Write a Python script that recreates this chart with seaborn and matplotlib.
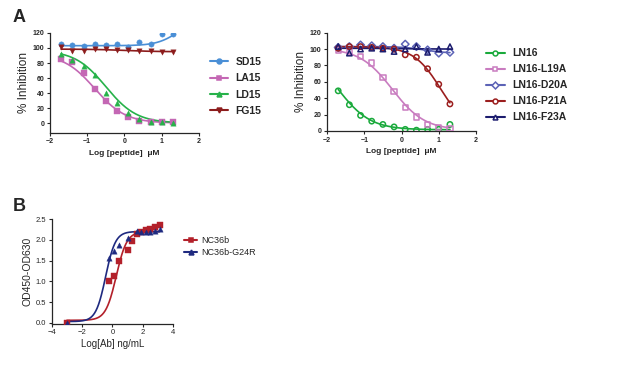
import numpy as np
import pandas as pd
import matplotlib
matplotlib.use("Agg")
import matplotlib.pyplot as plt
from matplotlib.lines import Line2D
import seaborn as sns

sns.set_style("ticks")
plt.rcParams['font.family'] = ['Liberation Sans', 'DejaVu Sans']

# --- Panel A, left: wild-type peptides ---
log_pep = [-1.7, -1.4, -1.1, -0.8, -0.5, -0.2, 0.1, 0.4, 0.7, 1.0, 1.3]
sd15 = [105, 104, 102, 105, 104, 105, 101, 108, 105, 118, 119]
la15 = [85, 81, 67, 46, 29, 16, 8, 3, 1, 1, 1]
ld15 = [92, 84, 76, 64, 40, 27, 14, 6, 2, 1, 0]
fg15 = [101, 96, 96, 98, 98, 97, 97, 96, 96, 95, 95]

# --- Panel A, right: LN16 alanine mutants ---
ln16 = [49, 32, 19, 12, 8, 5, 2, 1, 2, 2, 8]
ln16_l19a = [99, 97, 91, 83, 65, 48, 29, 17, 8, 4, 3]
ln16_d20a = [102, 103, 105, 104, 103, 101, 106, 103, 99, 95, 96]
ln16_p21a = [101, 103, 103, 102, 101, 100, 93, 90, 76, 57, 33]
ln16_f23a = [103, 95, 100, 101, 100, 97, 100, 103, 96, 100, 103]

# --- Panel B: binding ELISA ---
log_ab_nc36b = [-3.0, -0.2, 0.1, 0.4, 1.0, 1.3, 1.6, 1.9, 2.2, 2.5, 2.8, 3.1]
od_nc36b = [0.0, 1.0, 1.13, 1.48, 1.75, 1.98, 2.13, 2.2, 2.23, 2.27, 2.31, 2.36]
log_ab_g24r = [-3.0, -0.2, 0.1, 0.4, 1.0, 1.6, 1.9, 2.2, 2.5, 2.8, 3.1]
od_g24r = [0.0, 1.57, 1.74, 1.88, 2.05, 2.22, 2.18, 2.18, 2.2, 2.22, 2.25]

# 4PL fit parameters: (bottom, top, logEC50, hill)
fit_a_left = {
    'SD15': (103, 140, 1.45, 1.5),
    'LA15': (0, 92, -0.8, 1.05),
    'LD15': (0, 97, -0.5, 1.05),
    'FG15': (95, 98.5, 0.0, 1.0),
}
fit_a_right = {
    'LN16': (1.5, 100, -1.7, 1.0),
    'LN16-L19A': (1, 101, -0.25, 1.0),
    'LN16-D20A': (95, 103, 0.6, 1.5),
    'LN16-P21A': (0, 103, 1.05, 1.2),
    'LN16-F23A': (100, 101, 0.0, 1.0),
}
fit_b = {
    'NC36b': (0.06, 2.2, 0.25, 1.25),
    'NC36b-G24R': (0.03, 2.2, -0.45, 1.35),
}


def four_pl(x, bottom, top, logec50, hill, falling):
    s = -1 if falling else 1
    return bottom + (top - bottom) / (1 + 10 ** (s * (logec50 - x) * hill))


def draw_series(ax, x, y, params, color, marker, falling, filled=True, ms=4.5, lw=1.2):
    xs = np.linspace(min(x), max(x), 200)
    b, t, e, h = params
    curve = pd.DataFrame({'x': xs, 'y': four_pl(xs, b, t, e, h, falling)})
    sns.lineplot(data=curve, x='x', y='y', ax=ax, color=color, lw=lw, legend=False)
    sns.scatterplot(x=x, y=y, ax=ax, color=color if filled else 'none',
                    edgecolor=color, marker=marker, s=ms ** 2 * 1.2,
                    linewidth=1.1 if not filled else 0.3, legend=False, zorder=3)
    return Line2D([], [], color=color, marker=marker, lw=1.5, markersize=ms,
                  markerfacecolor=color if filled else 'white',
                  markeredgecolor=color, markeredgewidth=1.1)


def style_axes(ax, bold=True, size=5):
    sns.despine(ax=ax)
    ax.tick_params(direction='out', length=2.5, width=0.8, labelsize=size, pad=1.5)
    for lab in ax.get_xticklabels() + ax.get_yticklabels():
        lab.set_fontweight('bold' if bold else 'normal')
    for sp in ax.spines.values():
        sp.set_linewidth(0.9)


fig = plt.figure(figsize=(6.17, 3.83), dpi=100)

# Panel A left
ax1 = fig.add_axes([0.081, 0.653, 0.2415, 0.261])
colors_l = {'SD15': '#4a8fd6', 'LA15': '#c467b4', 'LD15': '#27b24a', 'FG15': '#8c1c1c'}
markers_l = {'SD15': 'o', 'LA15': 's', 'LD15': '^', 'FG15': 'v'}
data_l = {'SD15': sd15, 'LA15': la15, 'LD15': ld15, 'FG15': fg15}
handles = []
for name, vals in data_l.items():
    falling = name != 'SD15'
    handles.append(draw_series(ax1, log_pep, vals, fit_a_left[name], colors_l[name],
                               markers_l[name], falling, ms=3.5))
ax1.set_xlim(-2, 2)
ax1.set_ylim(-13, 120)
ax1.set_xticks([-2, -1, 0, 1, 2])
ax1.set_yticks([0, 20, 40, 60, 80, 100, 120])
ax1.set_xlabel('Log [peptide]  μM', fontsize=6, fontweight='bold', labelpad=3)
ax1.set_ylabel('% Inhibition', fontsize=8.5, labelpad=2)
style_axes(ax1)
fig.legend(handles, list(data_l.keys()), loc='upper left', bbox_to_anchor=(0.333, 0.862),
           frameon=False, prop={'weight': 'bold', 'size': 7.5}, handlelength=1.8,
           handletextpad=0.7, labelspacing=0.6, borderaxespad=0)

# Panel A right
ax2 = fig.add_axes([0.530, 0.658, 0.2415, 0.2567])
colors_r = {'LN16': '#1aaa3c', 'LN16-L19A': '#c97cc0', 'LN16-D20A': '#5c63b6',
            'LN16-P21A': '#9b1e1e', 'LN16-F23A': '#1c1c6e'}
markers_r = {'LN16': 'o', 'LN16-L19A': 's', 'LN16-D20A': 'D', 'LN16-P21A': 'o',
             'LN16-F23A': '^'}
data_r = {'LN16': ln16, 'LN16-L19A': ln16_l19a, 'LN16-D20A': ln16_d20a,
          'LN16-P21A': ln16_p21a, 'LN16-F23A': ln16_f23a}
handles = []
for name, vals in data_r.items():
    handles.append(draw_series(ax2, log_pep, vals, fit_a_right[name], colors_r[name],
                               markers_r[name], True, filled=False, ms=3.5))
ax2.set_xlim(-2, 2)
ax2.set_ylim(0, 120)
ax2.set_xticks([-2, -1, 0, 1, 2])
ax2.set_yticks([0, 20, 40, 60, 80, 100, 120])
ax2.set_xlabel('Log [peptide]  μM', fontsize=6, fontweight='bold', labelpad=3)
ax2.set_ylabel('% Inhibition', fontsize=8.5, labelpad=2)
style_axes(ax2)
fig.legend(handles, list(data_r.keys()), loc='upper left', bbox_to_anchor=(0.781, 0.885),
           frameon=False, prop={'weight': 'bold', 'size': 7.5}, handlelength=1.8,
           handletextpad=0.7, labelspacing=0.58, borderaxespad=0)

# Panel B
ax3 = fig.add_axes([0.0838, 0.155, 0.197, 0.273])
handles = [
    draw_series(ax3, log_ab_nc36b, od_nc36b, fit_b['NC36b'], '#b3202a', 's', False, ms=3.5),
    draw_series(ax3, log_ab_g24r, od_g24r, fit_b['NC36b-G24R'], '#1f2a80', '^', False, ms=3.5),
]
ax3.set_xlim(-4, 4)
ax3.set_ylim(-0.02, 2.5)
ax3.set_xticks([-4, -2, 0, 2, 4])
ax3.set_yticks([0, 0.5, 1.0, 1.5, 2.0, 2.5])
ax3.set_yticklabels(['0.0', '0.5', '1.0', '1.5', '2.0', '2.5'])
ax3.set_xlabel('Log[Ab] ng/mL', fontsize=7, labelpad=2)
ax3.set_ylabel('OD450-OD630', fontsize=7.5, labelpad=2)
style_axes(ax3, bold=False, size=5.5)
fig.legend(handles, ['NC36b', 'NC36b-G24R'], loc='upper left', bbox_to_anchor=(0.292, 0.393),
           frameon=False, prop={'size': 6.5}, handlelength=1.5, handletextpad=0.4,
           labelspacing=0.35, borderaxespad=0)

fig.text(0.02, 0.955, 'A', fontsize=13, fontweight='bold', va='center')
fig.text(0.02, 0.462, 'B', fontsize=13, fontweight='bold', va='center')

fig.savefig('out.png', dpi=100)
